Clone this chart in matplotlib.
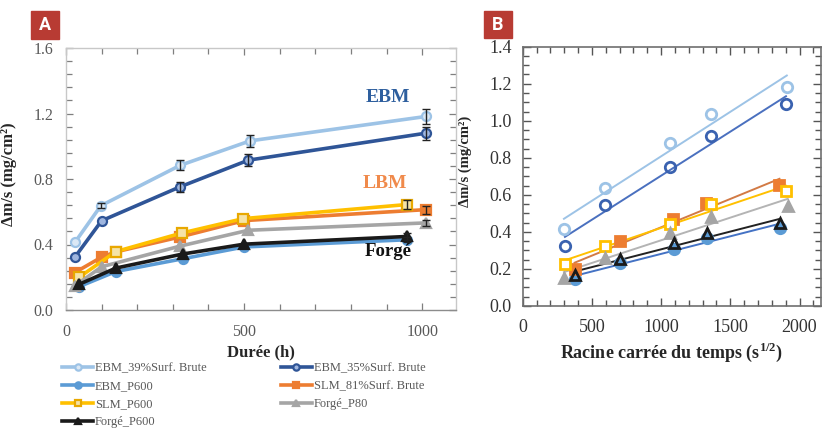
import numpy as np
import matplotlib
matplotlib.use("Agg")
import matplotlib.pyplot as plt
from matplotlib.patches import Rectangle

plt.rcParams['font.family'] = ['Liberation Serif', 'DejaVu Serif']
plt.rcParams['mathtext.fontset'] = 'custom'
plt.rcParams['mathtext.rm'] = 'Liberation Serif'
plt.rcParams['mathtext.bf'] = 'Liberation Serif:bold'

# ---------------- data: panel A (duration in hours) ----------------
labels = ["EBM_39%Surf. Brute", "EBM_35%Surf. Brute", "EBM_P600",
          "SLM_81%Surf. Brute", "SLM_P600", "Forgé_P80", "Forgé_P600"]

a_ebm39_x = [25, 98, 320, 517, 1011]
a_ebm39_y = [0.413, 0.637, 0.883, 1.033, 1.182]
a_ebm39_err = [0.0, 0.015, 0.03, 0.035, 0.045]

a_ebm35_x = [25, 100, 320, 512, 1011]
a_ebm35_y = [0.323, 0.545, 0.752, 0.915, 1.080]
a_ebm35_err = [0.0, 0.0, 0.03, 0.035, 0.04]

a_ebmp600_x = [37, 140, 328, 500, 957]
a_ebmp600_y = [0.143, 0.235, 0.313, 0.385, 0.429]
a_ebmp600_err = [0.0, 0.0, 0.0, 0.0, 0.015]

a_slm81_x = [25, 100, 140, 320, 500, 1011]
a_slm81_y = [0.229, 0.323, 0.355, 0.446, 0.546, 0.613]
a_slm81_err = [0.0, 0.0, 0.0, 0.0, 0.0, 0.025]

a_slmp600_x = [37, 140, 325, 498, 957]
a_slmp600_y = [0.200, 0.357, 0.470, 0.558, 0.644]
a_slmp600_err = [0.0, 0.0, 0.0, 0.0, 0.025]

a_forp80_x = [25, 100, 320, 512, 1011]
a_forp80_y = [0.147, 0.264, 0.390, 0.487, 0.532]
a_forp80_err = [0.0, 0.0, 0.0, 0.0, 0.02]

a_forp600_x = [37, 140, 328, 500, 957]
a_forp600_y = [0.157, 0.256, 0.342, 0.402, 0.449]
a_forp600_err = [0.0, 0.0, 0.0, 0.0, 0.02]

# ---------------- data: panel B (square root of time, s^1/2) ----------------
b_ebm39_x = [298, 598, 1067, 1360, 1908]
b_ebm39_y = [0.414, 0.635, 0.882, 1.037, 1.184]
b_ebm35_x = [305, 598, 1062, 1360, 1902]
b_ebm35_y = [0.322, 0.545, 0.752, 0.918, 1.089]
b_ebmp600_x = [375, 702, 1091, 1332, 1860]
b_ebmp600_y = [0.144, 0.231, 0.308, 0.369, 0.423]
b_slm81_x = [375, 702, 1084, 1326, 1855]
b_slm81_y = [0.198, 0.353, 0.468, 0.558, 0.653]
b_slmp600_x = [305, 598, 1067, 1360, 1902]
b_slmp600_y = [0.228, 0.324, 0.445, 0.549, 0.621]
b_forp80_x = [298, 598, 1067, 1360, 1914]
b_forp80_y = [0.153, 0.261, 0.396, 0.482, 0.540]
b_forp600_x = [375, 702, 1091, 1332, 1860]
b_forp600_y = [0.165, 0.254, 0.339, 0.395, 0.446]

# ---------------- styles ----------------
C_LB = '#9dc3e6'
C_DB = '#2f5597'
C_MB = '#5b9bd5'
C_OR = '#ed7d31'
C_YE = '#ffc000'
C_GR = '#a5a5a5'
C_BK = '#1a1a1a'

fig = plt.figure(figsize=(8.22, 4.29), dpi=100)
W, H = 822, 429

def fx(px):
    return px / W

def fy(py):
    return 1 - py / H

axA = fig.add_axes([fx(66), fy(310), (456 - 66) / W, (310 - 48) / H])
axB = fig.add_axes([fx(522.7), fy(306), (821 - 522.7) / W, (306 - 46.7) / H])

# ----- Panel A -----
seriesA = [
    (a_ebm39_x, a_ebm39_y, a_ebm39_err, C_LB, 'o', '#dbe8f5', C_LB),
    (a_ebm35_x, a_ebm35_y, a_ebm35_err, C_DB, 'o', '#9fb6df', C_DB),
    (a_ebmp600_x, a_ebmp600_y, a_ebmp600_err, C_MB, 'o', C_MB, C_MB),
    (a_slm81_x, a_slm81_y, a_slm81_err, C_OR, 's', C_OR, C_OR),
    (a_slmp600_x, a_slmp600_y, a_slmp600_err, C_YE, 's', '#f5e3a8', '#e8a800'),
    (a_forp80_x, a_forp80_y, a_forp80_err, C_GR, '^', C_GR, C_GR),
    (a_forp600_x, a_forp600_y, a_forp600_err, C_BK, '^', C_BK, C_BK),
]
handles = []
for (x, y, e, c, m, mfc, mec), lab in zip(seriesA, labels):
    ln, = axA.plot(x, y, color=c, lw=2.6, marker=m, ms=6.5, mfc=mfc, mec=mec,
                   mew=1.6, label=lab, zorder=3)
    handles.append(ln)
    e = np.array(e)
    mask = e > 0
    axA.errorbar(np.array(x)[mask], np.array(y)[mask], yerr=e[mask], fmt='none',
                 ecolor='#222222', elinewidth=1.0, capsize=3, capthick=1.0, zorder=4)

axA.set_xlim(0, 1095)
axA.set_ylim(0, 1.6)
axA.set_xticks([0, 500, 1000])
axA.set_xticks(np.arange(0, 1100, 100), minor=True)
axA.set_yticks([0.0, 0.4, 0.8, 1.2, 1.6])
axA.set_yticks(np.arange(0, 1.61, 0.08), minor=True)
axA.yaxis.set_major_formatter(matplotlib.ticker.FormatStrFormatter('%.1f'))
axA.tick_params(which='both', direction='in', top=True, right=True,
                colors='#7f7f7f', labelcolor='#595959', labelsize=11.5)
axA.tick_params(which='major', length=5, width=0.9)
axA.tick_params(which='minor', length=4, width=0.9)
axA.tick_params(axis='y', pad=9)
axA.tick_params(axis='x', pad=10)
for s in axA.spines.values():
    s.set_color('#c8c8c8')
    s.set_linewidth(1.0)
axA.spines['bottom'].set_color('#8c8c8c')
axA.set_xlabel('Durée (h)', fontsize=12, fontweight='bold', color='#262626', labelpad=3)
axA.set_ylabel('Δm/s (mg/cm²)', fontsize=12, fontweight='bold', color='#262626')
axA.yaxis.set_label_coords(-0.126, 0.52)

axA.text(905, 1.295, 'EBM', color='#2e5f9e', fontsize=14, fontweight='bold',
         ha='center', va='center')
axA.text(895, 0.775, 'LBM', color='#f08a4b', fontsize=14, fontweight='bold',
         ha='center', va='center')
axA.text(905, 0.355, 'Forgé', color='#111111', fontsize=13.5, fontweight='bold',
         ha='center', va='center')

order = [0, 2, 4, 6, 1, 3, 5]
leg = fig.legend([handles[i] for i in order], [labels[i] for i in order],
                 loc='upper left', bbox_to_anchor=(fx(62), fy(362)), ncol=2,
                 frameon=False, fontsize=9, handlelength=2.5, handletextpad=0.15,
                 columnspacing=5.9, labelspacing=0.48, borderaxespad=0, borderpad=0,
                 markerscale=0.7)
for t in leg.get_texts():
    t.set_color('#595959')

# ----- Panel B -----
seriesB = [
    (b_ebm39_x, b_ebm39_y, C_LB, C_LB, 'o', 'none', C_LB),
    (b_ebm35_x, b_ebm35_y, C_DB, '#4a70bf', 'o', 'none', '#3a62b0'),
    (b_ebmp600_x, b_ebmp600_y, C_MB, '#4472c4', 'o', C_MB, C_MB),
    (b_slm81_x, b_slm81_y, C_OR, '#d27a45', 's', C_OR, C_OR),
    (b_slmp600_x, b_slmp600_y, C_YE, C_YE, 's', 'white', C_YE),
    (b_forp80_x, b_forp80_y, C_GR, '#b4b4b4', '^', C_GR, C_GR),
    (b_forp600_x, b_forp600_y, C_BK, '#222222', '^', 'none', C_BK),
]
for x, y, c, lc, m, mfc, mec in seriesB:
    x = np.array(x, float)
    y = np.array(y, float)
    k, b0 = np.polyfit(x, y, 1)
    xx = np.array([x.min(), x.max()])
    axB.plot(xx, k * xx + b0, color=lc, lw=1.4, zorder=2)
    axB.plot(x, y, ls='none', marker=m, ms=7.5 if m != 's' else 7, mfc=mfc, mec=mec,
             mew=2.0, zorder=3)

axB.set_xlim(0, 2155)
axB.set_ylim(0, 1.4)
axB.set_xticks([0, 500, 1000, 1500, 2000])
axB.set_xticks(np.arange(0, 2155, 100), minor=True)
axB.set_yticks(np.arange(0, 1.41, 0.2))
axB.set_yticks(np.arange(0, 1.41, 0.05), minor=True)
axB.yaxis.set_major_formatter(matplotlib.ticker.FormatStrFormatter('%.1f'))
axB.tick_params(which='both', direction='in', top=True, right=True,
                colors='#555555', labelcolor='#333333', labelsize=13)
axB.tick_params(which='major', length=6, width=1.0)
axB.tick_params(which='minor', length=4, width=1.0)
axB.tick_params(axis='y', pad=8)
axB.tick_params(axis='x', pad=9)
for s in axB.spines.values():
    s.set_color('#6f6f6f')
    s.set_linewidth(1.2)
axB.set_xlabel('Racine carrée du temps (s$^{\\mathbf{1/2}}$)', fontsize=13,
               fontweight='bold', color='#262626', labelpad=4)
axB.set_ylabel('Δm/s (mg/cm²)', fontsize=10.5, fontweight='bold', color='#262626')
axB.yaxis.set_label_coords(-0.171, 0.559)

# ----- panel letters -----
for (x0, y0, x1, y1, letter) in [(31, 11, 59, 39, 'A'), (484, 11, 512, 38, 'B')]:
    fig.patches.append(Rectangle((fx(x0), fy(y1)), (x1 - x0) / W, (y1 - y0) / H,
                                 transform=fig.transFigure, color='#b83b33', zorder=5))
    fig.text(fx((x0 + x1) / 2), fy((y0 + y1) / 2), letter, color='white',
             fontsize=13, fontweight='bold', family=['Roboto', 'DejaVu Sans'],
             ha='center', va='center', zorder=6)

fig.savefig('out.png', dpi=100)
